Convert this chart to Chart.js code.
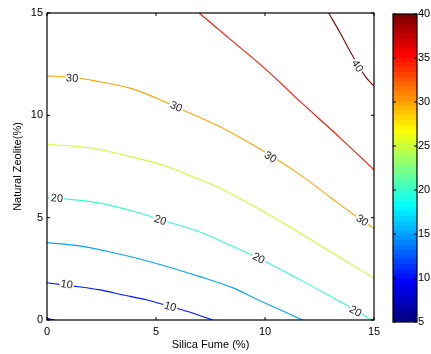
<!DOCTYPE html>
<html>
<head>
<meta charset="utf-8">
<script src="https://cdn.jsdelivr.net/npm/chart.js@4/dist/chart.umd.min.js"></script>
<style>
  html, body { margin: 0; padding: 0; background: #fff; }
  #wrap { position: relative; width: 431px; height: 354px; overflow: hidden; }
  #main { position: absolute; left: 0; top: 0; }
  #bar { position: absolute; left: 380px; top: 0; }
</style>
</head>
<body>
<div id="wrap">
  <canvas id="main" width="431" height="354"></canvas>
  <canvas id="bar" width="51" height="354"></canvas>
</div>
<script>
// Contour levels of the response surface and the colour range of the bar
const levels = [5, 10, 15, 20, 25, 30, 35, 40];
const colorMin = 5;
const colorMax = 40;
const axisTicks = [0, 5, 10, 15];
const barTicks = [5, 10, 15, 20, 25, 30, 35, 40];

// Iso-lines as [silica fume %, natural zeolite %] points
const contour5  = [[0, 0.08], [0.35, 0]];
const contour10 = [[0, 1.82], [1, 1.68], [2.43, 1.47], [3.5, 1.22], [4.6, 0.98], [5.65, 0.66], [6.5, 0.4], [7.02, 0.21], [7.6, 0]];
const contour15 = [[0, 3.78], [1.5, 3.62], [3, 3.3], [4.73, 2.85], [7.02, 2.12], [8.54, 1.57], [9.7, 0.98], [10.8, 0.45], [11.72, 0]];
const contour20 = [[0, 5.98], [0.5, 5.95], [2.43, 5.71], [4, 5.3], [5.2, 4.9], [7.02, 4.3], [8.4, 3.65], [9.69, 3.03], [11.62, 1.96], [13.3, 0.98], [14.2, 0.45], [14.9, 0]];
const contour25 = [[0, 8.59], [2, 8.4], [3.81, 7.99], [5.5, 7.5], [7.02, 6.85], [7.94, 6.44], [9.93, 5.3], [11.62, 4.24], [13.45, 3.05], [15, 2.04]];
const contour30 = [[0, 11.93], [1.2, 11.86], [2.43, 11.64], [3.81, 11.33], [5, 10.85], [5.88, 10.43], [7.02, 9.89], [8.2, 9.3], [9.32, 8.64], [10.24, 8.05], [11.62, 7.09], [12.99, 6.0], [14, 5.2], [15, 4.48]];
const contour35 = [[6.98, 15], [8.4, 13.72], [10.09, 12.2], [11.62, 10.67], [13.45, 8.9], [15, 7.33]];
const contour40 = [[12.92, 15], [13.45, 14.02], [13.99, 12.96], [14.6, 11.9], [14.98, 11.44]];
const contours = [contour5, contour10, contour15, contour20, contour25, contour30, contour35, contour40];

// Inline contour labels: level and anchor in data units
const labelLevels = [30, 30, 30, 30, 40, 20, 20, 20, 20, 10, 10];
const labelX = [1.15, 5.92, 10.24, 14.45, 14.22, 0.45, 5.19, 9.7, 14.14, 0.9, 5.65];
const labelY = [11.8, 10.41, 7.95, 4.85, 12.4, 5.93, 4.86, 3.0, 0.41, 1.72, 0.64];

const FONT = 'Liberation Sans, Arial, Helvetica, sans-serif';
Chart.defaults.font.family = FONT;
Chart.defaults.font.size = 11;
Chart.defaults.color = '#000';

// MATLAB-style jet colour map
function jet(t) {
  const c = v => Math.round(255 * Math.max(0, Math.min(1, v)));
  return 'rgb(' + c(1.5 - Math.abs(4 * t - 3)) + ',' + c(1.5 - Math.abs(4 * t - 2)) + ',' + c(1.5 - Math.abs(4 * t - 1)) + ')';
}
const levelColor = v => jet((v - colorMin) / (colorMax - colorMin));

// Box frame with inward ticks on all four sides
function drawFrame(ctx, area, xs, ys, xTicks, yTicks, len) {
  ctx.save();
  ctx.strokeStyle = '#000';
  ctx.lineWidth = 1.2;
  ctx.strokeRect(area.left, area.top, area.right - area.left, area.bottom - area.top);
  ctx.lineWidth = 1;
  ctx.beginPath();
  if (xs) xTicks.forEach(v => {
    const px = xs.getPixelForValue(v);
    ctx.moveTo(px, area.bottom); ctx.lineTo(px, area.bottom - len);
    ctx.moveTo(px, area.top); ctx.lineTo(px, area.top + len);
  });
  if (ys) yTicks.forEach(v => {
    const py = ys.getPixelForValue(v);
    ctx.moveTo(area.left, py); ctx.lineTo(area.left + len, py);
    ctx.moveTo(area.right, py); ctx.lineTo(area.right - len, py);
  });
  ctx.stroke();
  ctx.restore();
}

const contourLabels = {
  id: 'contourLabels',
  afterDatasetsDraw(chart) {
    const { ctx, scales: { x, y } } = chart;
    ctx.save();
    ctx.font = '11px ' + FONT;
    ctx.textAlign = 'center';
    ctx.textBaseline = 'middle';
    labelLevels.forEach((lv, i) => {
      const pts = contours[levels.indexOf(lv)];
      const lx = labelX[i];
      let k = 0;
      while (k < pts.length - 2 && pts[k + 1][0] < lx) k++;
      const x0 = x.getPixelForValue(pts[k][0]), y0 = y.getPixelForValue(pts[k][1]);
      const x1 = x.getPixelForValue(pts[k + 1][0]), y1 = y.getPixelForValue(pts[k + 1][1]);
      const ang = Math.atan2(y1 - y0, x1 - x0);
      const px = x.getPixelForValue(lx), py = y.getPixelForValue(labelY[i]);
      const text = String(lv);
      const w = ctx.measureText(text).width;
      ctx.save();
      ctx.translate(px, py);
      ctx.rotate(ang);
      ctx.fillStyle = '#fff';
      ctx.fillRect(-w / 2 - 1, -4, w + 2, 8);
      ctx.fillStyle = '#222';
      ctx.fillText(text, 0, 0);
      ctx.restore();
    });
    ctx.restore();
  },
  afterDraw(chart) {
    drawFrame(chart.ctx, chart.chartArea, chart.scales.x, chart.scales.y, axisTicks, axisTicks, 3);
  }
};

new Chart(document.getElementById('main'), {
  type: 'scatter',
  data: {
    datasets: levels.map((lv, i) => ({
      label: String(lv),
      data: contours[i].map(p => ({ x: p[0], y: p[1] })),
      showLine: true,
      borderColor: levelColor(lv),
      borderWidth: 1.1,
      pointRadius: 0,
      cubicInterpolationMode: 'monotone',
      fill: false
    }))
  },
  options: {
    responsive: false,
    animation: false,
    events: [],
    layout: { padding: { top: 13, right: 57, bottom: 0, left: 0 } },
    plugins: { legend: { display: false }, tooltip: { enabled: false } },
    scales: {
      x: {
        type: 'linear', min: 0, max: 15,
        afterBuildTicks: s => { s.ticks = axisTicks.map(v => ({ value: v })); },
        ticks: { padding: 5, maxRotation: 0, color: '#000' },
        grid: { display: false, drawTicks: false },
        border: { display: false },
        title: { display: true, text: 'Silica Fume (%)', color: '#000', font: { size: 11 }, padding: { top: 0, bottom: 2 } },
        afterFit: s => { s.height = 34; }
      },
      y: {
        type: 'linear', min: 0, max: 15,
        afterBuildTicks: s => { s.ticks = axisTicks.map(v => ({ value: v })); },
        ticks: { padding: 4, color: '#000' },
        grid: { display: false, drawTicks: false },
        border: { display: false },
        title: { display: true, text: 'Natural Zeolite(%)', color: '#000', font: { size: 11 }, padding: { top: 11, bottom: 0 } },
        afterFit: s => { s.width = 47; }
      }
    }
  },
  plugins: [contourLabels]
});

// Colour bar: one floating bar spanning the level range, filled with 64 jet bands
const barFrame = {
  id: 'barFrame',
  afterDraw(chart) {
    drawFrame(chart.ctx, chart.chartArea, null, chart.scales.y, [], barTicks, 3);
  }
};

new Chart(document.getElementById('bar'), {
  type: 'bar',
  data: {
    labels: [''],
    datasets: [{
      data: [[colorMin, colorMax]],
      backgroundColor: (c) => {
        const ch = c.chart;
        if (!ch.chartArea) return '#000';
        const ys = ch.scales.y;
        const g = ch.ctx.createLinearGradient(0, ys.getPixelForValue(colorMin), 0, ys.getPixelForValue(colorMax));
        const n = 64;
        for (let i = 0; i < n; i++) {
          const col = jet(i / (n - 1));
          g.addColorStop(i / n, col);
          g.addColorStop((i + 1) / n - 1e-6, col);
        }
        return g;
      },
      borderWidth: 0,
      barPercentage: 1,
      categoryPercentage: 1
    }]
  },
  options: {
    responsive: false,
    animation: false,
    events: [],
    layout: { padding: { top: 14, right: 0, bottom: 32, left: 13 } },
    plugins: { legend: { display: false }, tooltip: { enabled: false } },
    scales: {
      x: { display: false },
      y: {
        position: 'right',
        min: colorMin, max: colorMax,
        afterBuildTicks: s => { s.ticks = barTicks.map(v => ({ value: v })); },
        ticks: { padding: 1, color: '#000' },
        grid: { display: false, drawTicks: false },
        border: { display: false },
        afterFit: s => { s.width = 14; }
      }
    }
  },
  plugins: [barFrame]
});
</script>
</body>
</html>
